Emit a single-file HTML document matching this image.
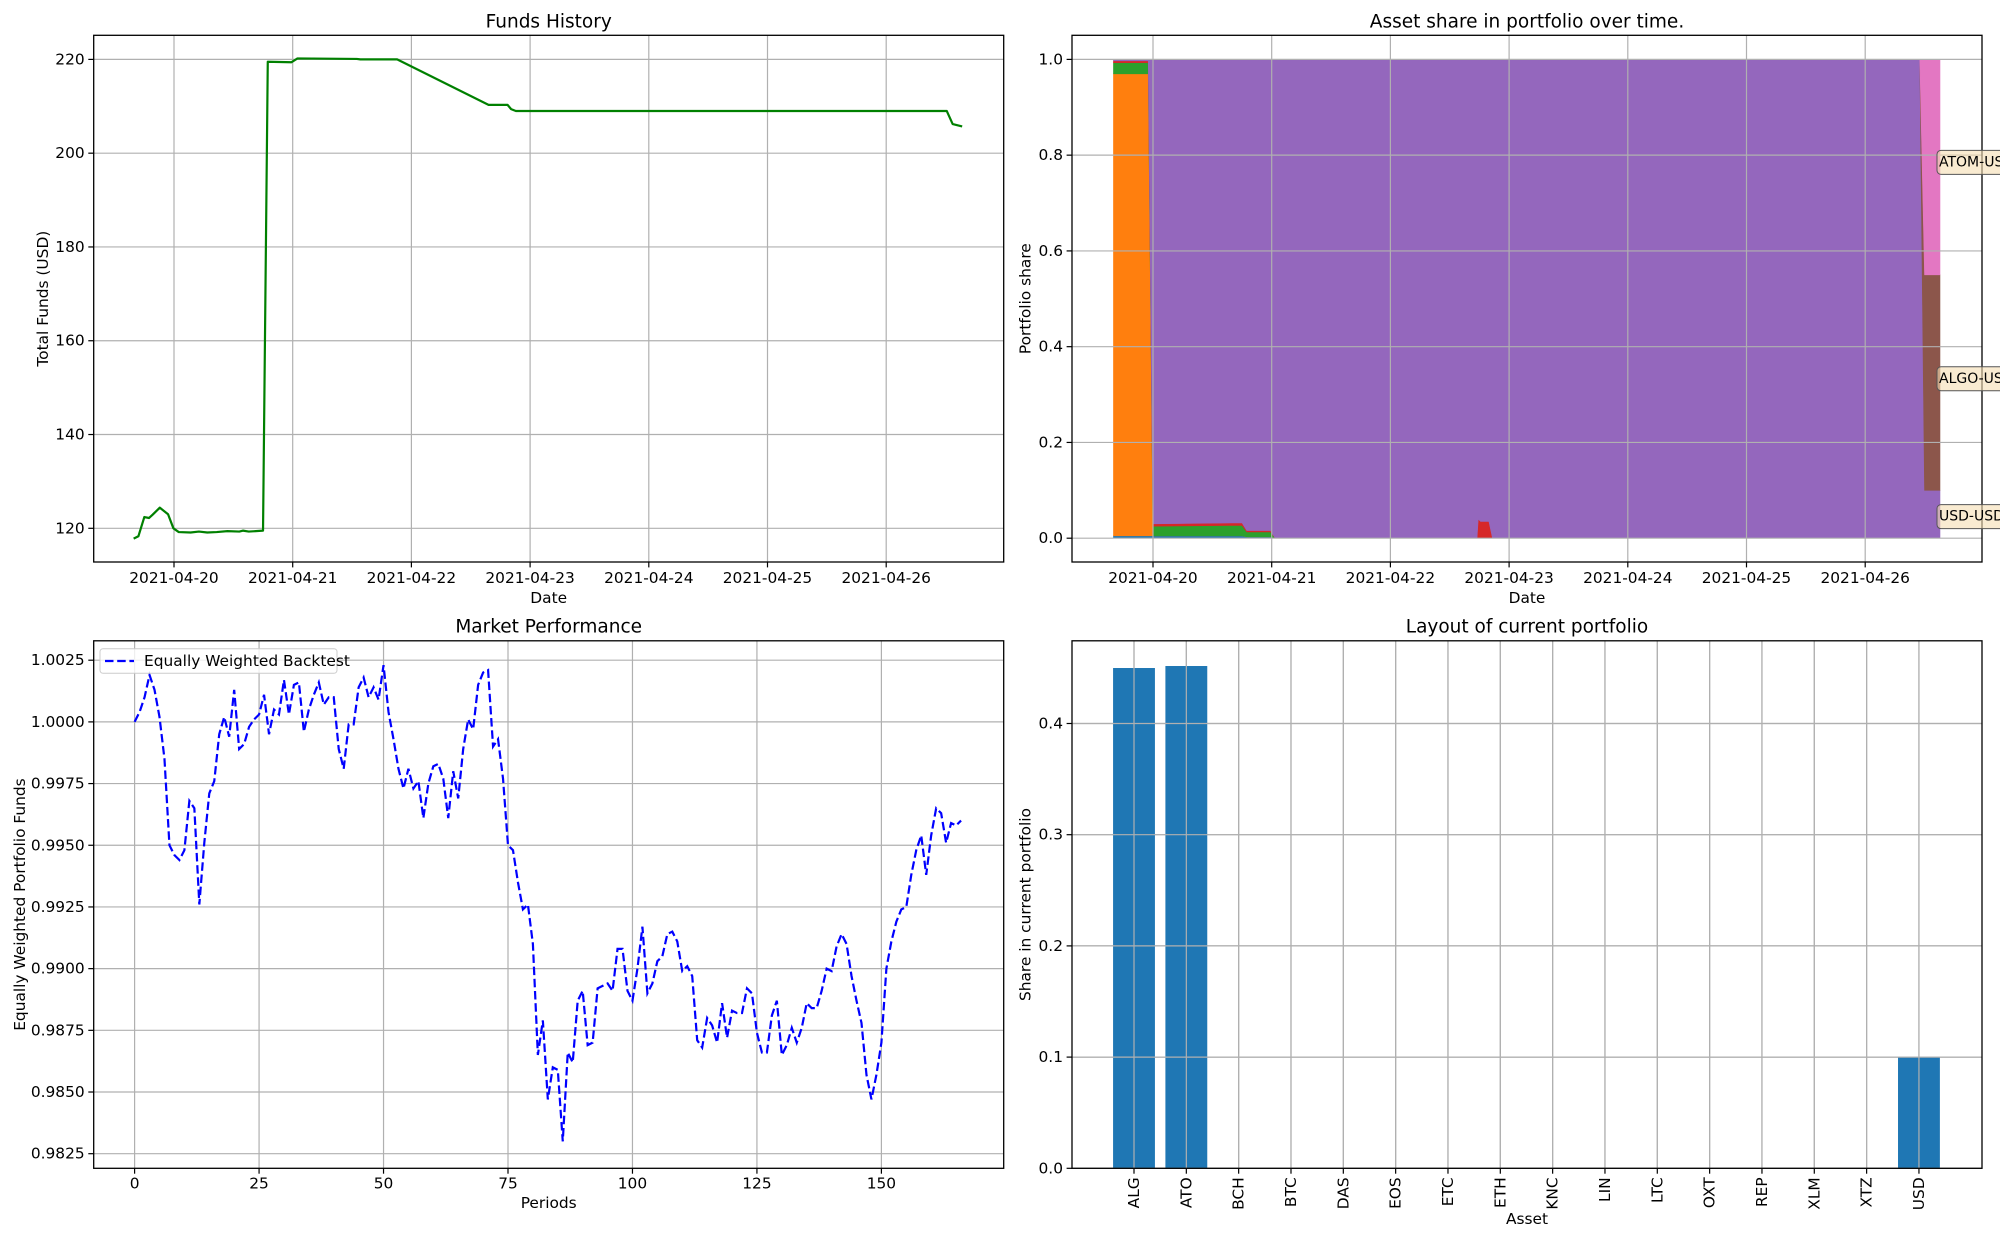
<!DOCTYPE html>
<html><head><meta charset="utf-8">
<style>
html,body{margin:0;padding:0;background:#fff}
svg{display:block;font-family:"DejaVu Sans","Liberation Sans",sans-serif}
</style></head>
<body>
<svg id="fig" width="2000" height="1242" viewBox="0 0 2000 1242" xmlns="http://www.w3.org/2000/svg"></svg>
<script>
// ---------- Funds History data (days since 2021-04-20) ----------
const fundsDays = [-0.34,-0.30,-0.25,-0.21,-0.18,-0.12,-0.05,-0.005,0.04,0.14,0.21,0.28,0.36,0.45,0.55,0.58,0.63,0.75,0.79,0.99,1.04,1.54,1.57,1.88,2.65,2.81,2.84,2.88,6.51,6.56,6.64];
const fundsValues = [117.8,118.3,122.4,122.2,122.9,124.4,123.0,120.0,119.2,119.1,119.3,119.1,119.2,119.4,119.3,119.5,119.3,119.5,219.5,219.4,220.2,220.1,220.0,220.0,210.3,210.3,209.4,209.0,209.0,206.2,205.7];
const dateTicks = ["2021-04-20","2021-04-21","2021-04-22","2021-04-23","2021-04-24","2021-04-25","2021-04-26"];
const fundsYTicks = [120,140,160,180,200,220];

// ---------- Asset share stack data ----------
const shareDays = [-0.333,-0.04,0.0,0.75,0.79,0.99,1.03,2.73,2.74,2.76,2.83,2.86,6.46,6.50,6.63];
const shareBlue   = [0.005,0.005,0.005,0.005,0.003,0.003,0,0,0,0,0,0,0,0,0];
const shareOrange = [0.965,0.965,0,0,0,0,0,0,0,0,0,0,0,0,0];
const shareGreen  = [0.023,0.023,0.02,0.022,0.01,0.01,0,0,0,0,0,0,0,0,0];
const shareRed    = [0.004,0.004,0.005,0.005,0.003,0.003,0,0,0.04,0.035,0.035,0,0,0,0];
const sharePurple = [0.003,0.003,0.97,0.968,0.984,0.984,1,1,0.96,0.965,0.965,1,1,0.1,0.1];
const shareBrown  = [0,0,0,0,0,0,0,0,0,0,0,0,0,0.45,0.45];
const sharePink   = [0,0,0,0,0,0,0,0,0,0,0,0,0,0.45,0.45];
const shareYTicks = [0.0,0.2,0.4,0.6,0.8,1.0];
const shareLabels = ["ATOM-USD","ALGO-USD","USD-USD"];
const shareLabelY = [0.785,0.333,0.045];

// ---------- Market performance data ----------
const marketValues = [1.0000,1.0004,1.0010,1.0019,1.0013,1.0002,0.9985,0.9950,0.9946,0.9944,0.9948,0.9968,0.9965,0.9926,0.9951,0.9971,0.9976,0.9995,1.0002,0.9994,1.0013,0.9989,0.9991,0.9998,1.0001,1.0003,1.0011,0.9995,1.0005,1.0003,1.0017,1.0003,1.0015,1.0016,0.9996,1.0005,1.0011,1.0016,1.0007,1.0010,1.0010,0.9989,0.9981,0.9999,0.9999,1.0014,1.0018,1.0010,1.0014,1.0009,1.0023,1.0004,0.9993,0.9981,0.9973,0.9981,0.9973,0.9976,0.9961,0.9975,0.9982,0.9983,0.9977,0.9961,0.9980,0.9969,0.9989,1.0001,0.9997,1.0015,1.0020,1.0021,0.9990,0.9993,0.9977,0.9950,0.9948,0.9935,0.9924,0.9926,0.9910,0.9865,0.9879,0.9847,0.9860,0.9859,0.9830,0.9866,0.9862,0.9887,0.9891,0.9869,0.9870,0.9892,0.9893,0.9894,0.9891,0.9908,0.9908,0.9891,0.9887,0.9900,0.9917,0.9890,0.9894,0.9903,0.9905,0.9914,0.9915,0.9911,0.9899,0.9901,0.9897,0.9871,0.9868,0.9880,0.9877,0.9870,0.9886,0.9872,0.9883,0.9882,0.9882,0.9892,0.9890,0.9874,0.9866,0.9866,0.9881,0.9887,0.9865,0.9869,0.9876,0.9870,0.9876,0.9886,0.9884,0.9884,0.9891,0.9900,0.9899,0.9909,0.9914,0.9910,0.9897,0.9887,0.9878,0.9857,0.9847,0.9857,0.9870,0.9900,0.9911,0.9919,0.9924,0.9925,0.9938,0.9948,0.9954,0.9938,0.9954,0.9965,0.9963,0.9951,0.9959,0.9958,0.9960];
const marketXTicks = [0,25,50,75,100,125,150];
const marketYTicks = [0.9825,0.9850,0.9875,0.9900,0.9925,0.9950,0.9975,1.0000,1.0025];

// ---------- Current portfolio bars ----------
const assetNames = ["ALG","ATO","BCH","BTC","DAS","EOS","ETC","ETH","KNC","LIN","LTC","OXT","REP","XLM","XTZ","USD"];
const assetShares = [0.4499,0.4517,0,0,0,0,0,0,0,0,0,0,0,0,0,0.1];
const barYTicks = [0.0,0.1,0.2,0.3,0.4];

const NS="http://www.w3.org/2000/svg";
const fig=document.getElementById('fig');
function mk(tag,attrs,parent,text){const e=document.createElementNS(NS,tag);for(const k in attrs)e.setAttribute(k,attrs[k]);if(text!==undefined)e.textContent=text;(parent||fig).appendChild(e);return e;}
function lin(d0,d1,p0,p1){return v=>p0+(v-d0)*(p1-p0)/(d1-d0);}
const GRID="#b0b0b0";

function frame(L,R,T,B,name){
  const g=mk('g',{});
  
  
  return g;
}
function spines(g,L,R,T,B){
  const r=mk('rect',{x:L,y:T,width:R-L,height:B-T,fill:'none',stroke:'#000','stroke-width':1.3},g);
  
  
}
function title(g,x,y,txt){
  const t=mk('text',{x:x,y:y,'font-size':18.5,'text-anchor':'middle','dominant-baseline':'central',fill:'#000'},g,txt);
  
  
}
function xlabel(g,x,y,txt){
  const t=mk('text',{x:x,y:y,'font-size':15.4,'text-anchor':'middle','dominant-baseline':'central'},g,txt);
  
  
}
function ylabel(g,x,y,txt){
  const t=mk('text',{x:x,y:y,'font-size':15.4,'text-anchor':'middle','dominant-baseline':'central',transform:`rotate(-90 ${x} ${y})`},g,txt);
  
  
}
function yticks(g,L,R,ticks,sy,fmt){
  ticks.forEach(v=>{const y=sy(v);
    mk('line',{x1:L,x2:R,y1:y,y2:y,stroke:GRID,'stroke-width':1.2},g);
    mk('line',{x1:L-5.4,x2:L,y1:y,y2:y,stroke:'#000','stroke-width':1.2},g);
    const t=mk('text',{x:L-9,y:y,'font-size':15.4,'text-anchor':'end','dominant-baseline':'central'},g,fmt(v));
    
    
  });
}
function xticks(g,T,B,ticks,sx,labels,ly){
  ticks.forEach((v,i)=>{const x=sx(v);
    mk('line',{x1:x,x2:x,y1:T,y2:B,stroke:GRID,'stroke-width':1.2},g);
    mk('line',{x1:x,x2:x,y1:B,y2:B+5.4,stroke:'#000','stroke-width':1.2},g);
    const t=mk('text',{x:x,y:ly,'font-size':15.4,'text-anchor':'middle','dominant-baseline':'central'},g,labels[i]);
    
    
  });
}

// ===== Panel 1: Funds History =====
(function(){
  const L=93.7,R=1003.7,T=35.3,B=562;
  const g=frame(L,R,T,B,'funds-history-chart');
  const sx=lin(0,1,174,292.7), sy=lin(120,220,528.3,59.4);
  yticks(g,L,R,fundsYTicks,sy,v=>String(v));
  xticks(g,T,B,dateTicks.map((d,i)=>i),sx,dateTicks,578);
  const p=mk('polyline',{points:fundsDays.map((d,i)=>sx(d)+','+sy(fundsValues[i])).join(' '),fill:'none',stroke:'#008000','stroke-width':2.2,'stroke-linejoin':'round'},g);
  
  
  spines(g,L,R,T,B);
  title(g,(L+R)/2,21.8,'Funds History');
  xlabel(g,(L+R)/2,598,'Date');
  ylabel(g,43,(T+B)/2,'Total Funds (USD)');
})();

// ===== Panel 2: Asset share =====
(function(){
  const L=1072,R=1982,T=35.3,B=562;
  const g=frame(L,R,T,B,'asset-share-chart');
  const sx=lin(0,1,1153,1271.7), sy=lin(0,1,538.2,59.4);
  const series=[[shareBlue,'#1f77b4','share-btc'],[shareOrange,'#ff7f0e','share-orange'],[shareGreen,'#2ca02c','share-green'],[shareRed,'#d62728','share-red'],[sharePurple,'#9467bd','share-usd'],[shareBrown,'#8c564b','share-algo'],[sharePink,'#e377c2','share-atom']];
  let base=shareDays.map(()=>0);
  const areas=mk('g',{},g);
  series.forEach(([vals,col,nm])=>{
    const top=base.map((b,i)=>b+vals[i]);
    const up=shareDays.map((d,i)=>sx(d)+','+sy(top[i]));
    const dn=shareDays.map((d,i)=>sx(d)+','+sy(base[i])).reverse();
    const poly=mk('polygon',{points:up.concat(dn).join(' '),fill:col,stroke:col,'stroke-width':0.6},areas);
    
    
    base=top;
  });
  shareYTicks.forEach(v=>{const y=sy(v);
    mk('line',{x1:L,x2:R,y1:y,y2:y,stroke:GRID,'stroke-width':1.2},g);
    mk('line',{x1:L-5.4,x2:L,y1:y,y2:y,stroke:'#000','stroke-width':1.2},g);
    const t=mk('text',{x:L-9,y:y,'font-size':15.4,'text-anchor':'end','dominant-baseline':'central'},g,v.toFixed(1));
    
    
  });
  xticks(g,T,B,dateTicks.map((d,i)=>i),sx,dateTicks,578);
  spines(g,L,R,T,B);
  shareLabels.forEach((lab,i)=>{
    const y=sy(shareLabelY[i]);
    const lg=mk('g',{},g);
    
    
    mk('rect',{x:1937,y:y-12,width:100,height:24,rx:4,fill:'#f5deb3','fill-opacity':0.6,stroke:'#555','stroke-width':1},lg);
    mk('text',{x:1939,y:y,'font-size':14,'dominant-baseline':'central'},lg,lab);
  });
  title(g,(L+R)/2,21.8,'Asset share in portfolio over time.');
  xlabel(g,(L+R)/2,598,'Date');
  ylabel(g,1025.5,(T+B)/2,'Portfolio share');
})();

// ===== Panel 3: Market Performance =====
(function(){
  const L=93.7,R=1003.7,T=640.8,B=1168.3;
  const g=frame(L,R,T,B,'market-performance-chart');
  const sx=lin(0,150,134.6,881.4), sy=lin(0.9825,1.0025,1153.7,660.2);
  yticks(g,L,R,marketYTicks,sy,v=>v.toFixed(4));
  xticks(g,T,B,marketXTicks,sx,marketXTicks.map(String),1183.4);
  const p=mk('polyline',{points:marketValues.map((v,i)=>sx(i)+','+sy(v)).join(' '),fill:'none',stroke:'#0000ff','stroke-width':2.2,'stroke-dasharray':'8.5 3.7'},g);
  
  
  spines(g,L,R,T,B);
  const lg=mk('g',{},g);
  
  
  mk('rect',{x:100,y:648.7,width:237,height:24.6,rx:3,fill:'#fff','fill-opacity':0.8,stroke:'#ccc','stroke-width':1},lg);
  mk('line',{x1:105,x2:134,y1:661,y2:661,stroke:'#0000ff','stroke-width':2.2,'stroke-dasharray':'8.5 3.7'},lg);
  mk('text',{x:144,y:661,'font-size':15.4,'dominant-baseline':'central'},lg,'Equally Weighted Backtest');
  title(g,(L+R)/2,627,'Market Performance');
  xlabel(g,(L+R)/2,1203,'Periods');
  ylabel(g,20,(T+B)/2,'Equally Weighted Portfolio Funds');
})();

// ===== Panel 4: Layout of current portfolio =====
(function(){
  const L=1072,R=1982,T=640.8,B=1168.3;
  const g=frame(L,R,T,B,'current-portfolio-chart');
  const sx=lin(0,1,1134,1186.33), sy=lin(0,0.1,1168.3,1057.1);
  yticks(g,L,R,barYTicks,sy,v=>v.toFixed(1));
  assetNames.forEach((n,i)=>{const x=sx(i);
    mk('line',{x1:x,x2:x,y1:T,y2:B,stroke:GRID,'stroke-width':1.2},g);
    mk('line',{x1:x,x2:x,y1:B,y2:B+5.4,stroke:'#000','stroke-width':1.2},g);
    const t=mk('text',{x:x,y:B+9,'font-size':15.4,'text-anchor':'end','dominant-baseline':'central',transform:`rotate(-90 ${x} ${B+9})`},g,n);
    
    
  });
  const bw=sx(0.8)-sx(0);
  assetShares.forEach((v,i)=>{
    if(v<=0)return;
    const r=mk('rect',{x:sx(i)-bw/2,y:sy(v),width:bw,height:sy(0)-sy(v),fill:'#1f77b4'},g);
    
    
  });
  barYTicks.forEach(v=>{const y=sy(v);mk('line',{x1:L,x2:R,y1:y,y2:y,stroke:GRID,'stroke-width':1.2},g);});
  assetNames.forEach((n,i)=>{const x=sx(i);mk('line',{x1:x,x2:x,y1:T,y2:B,stroke:GRID,'stroke-width':1.2},g);});
  spines(g,L,R,T,B);
  title(g,(L+R)/2,627,'Layout of current portfolio');
  xlabel(g,(L+R)/2,1219,'Asset');
  ylabel(g,1025.5,(T+B)/2,'Share in current portfolio');
})();
</script>
</body></html>
